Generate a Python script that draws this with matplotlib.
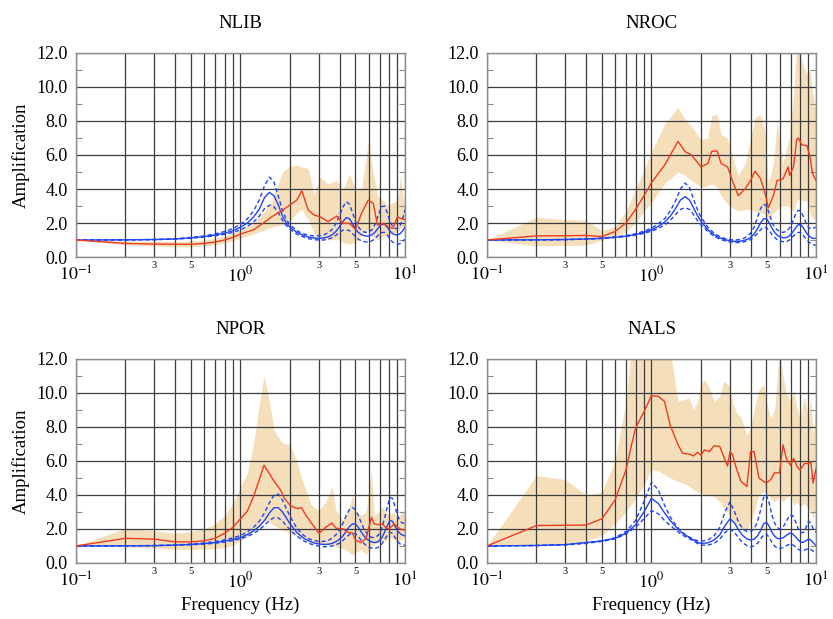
import matplotlib
matplotlib.use("Agg")
import matplotlib.pyplot as plt
import numpy as np
from matplotlib.ticker import FuncFormatter, MultipleLocator, LogLocator

plt.rcParams["font.family"] = ["Liberation Serif", "DejaVu Serif"]
plt.rcParams["mathtext.fontset"] = "stix"

# ── model (theoretical) transfer functions, common frequency grid ─────────────
freq_model = [0.1, 0.2, 0.3, 0.4, 0.5, 0.6, 0.7, 0.8, 0.9, 1.0,
              1.1, 1.2, 1.3, 1.4, 1.5, 1.6, 1.7, 1.8, 1.9, 2.0,
              2.2, 2.4, 2.6, 2.8, 3.0, 3.2, 3.4, 3.6, 3.8, 4.0,
              4.2, 4.4, 4.6, 4.8, 5.0, 5.2, 5.4, 5.6, 5.8, 6.0,
              6.3, 6.6, 6.9, 7.2, 7.5, 7.8, 8.1, 8.4, 8.7, 9.0,
              9.3, 9.6, 10.0]

nlib_model = [1.00, 1.01, 1.03, 1.06, 1.13, 1.20, 1.30, 1.40, 1.55, 1.75,
              2.00, 2.35, 2.80, 3.50, 3.80, 3.60, 3.05, 2.40, 2.00, 1.75,
              1.45, 1.28, 1.17, 1.12, 1.10, 1.12, 1.18, 1.30, 1.50, 1.78,
              2.10, 2.32, 2.25, 1.95, 1.65, 1.45, 1.33, 1.26, 1.23, 1.23,
              1.30, 1.48, 1.72, 1.92, 1.93, 1.75, 1.53, 1.38, 1.31, 1.30,
              1.36, 1.50, 1.75]
nlib_model_hi = [1.00, 1.01, 1.03, 1.07, 1.15, 1.24, 1.36, 1.50, 1.68, 1.92,
                 2.25, 2.70, 3.35, 4.20, 4.70, 4.40, 3.55, 2.75, 2.20, 1.90,
                 1.55, 1.37, 1.28, 1.24, 1.25, 1.30, 1.42, 1.62, 1.95, 2.45,
                 2.95, 3.25, 3.10, 2.60, 2.10, 1.78, 1.58, 1.48, 1.45, 1.45,
                 1.60, 1.95, 2.50, 2.95, 3.00, 2.60, 2.10, 1.80, 1.68, 1.68,
                 1.80, 2.15, 2.80]
nlib_model_lo = [1.00, 1.01, 1.02, 1.05, 1.11, 1.17, 1.25, 1.33, 1.45, 1.60,
                 1.80, 2.05, 2.40, 2.85, 3.05, 2.95, 2.60, 2.15, 1.85, 1.62,
                 1.35, 1.19, 1.08, 1.02, 1.00, 1.00, 1.05, 1.13, 1.27, 1.45,
                 1.58, 1.60, 1.55, 1.38, 1.20, 1.05, 0.96, 0.91, 0.89, 0.89,
                 0.95, 1.10, 1.30, 1.44, 1.45, 1.30, 1.05, 0.88, 0.80, 0.76,
                 0.78, 0.88, 1.05]

nroc_model = [1.00, 1.01, 1.03, 1.06, 1.10, 1.16, 1.23, 1.32, 1.45, 1.60,
              1.80, 2.05, 2.40, 2.85, 3.35, 3.55, 3.35, 2.90, 2.45, 2.10,
              1.60, 1.30, 1.13, 1.02, 0.95, 0.92, 0.92, 0.96, 1.03, 1.15,
              1.35, 1.65, 2.00, 2.25, 2.25, 2.00, 1.70, 1.45, 1.30, 1.20,
              1.13, 1.14, 1.25, 1.45, 1.70, 1.90, 1.90, 1.70, 1.45, 1.27,
              1.15, 1.10, 1.10]
nroc_model_hi = [1.00, 1.01, 1.03, 1.06, 1.11, 1.18, 1.26, 1.37, 1.52, 1.70,
                 1.95, 2.25, 2.70, 3.30, 4.00, 4.35, 4.10, 3.40, 2.80, 2.35,
                 1.75, 1.40, 1.20, 1.08, 1.02, 1.00, 1.02, 1.08, 1.20, 1.40,
                 1.75, 2.30, 2.85, 3.10, 3.00, 2.55, 2.05, 1.75, 1.60, 1.50,
                 1.45, 1.50, 1.70, 2.05, 2.50, 2.75, 2.70, 2.35, 2.00, 1.75,
                 1.65, 1.70, 1.75]
nroc_model_lo = [1.00, 1.01, 1.02, 1.05, 1.09, 1.14, 1.20, 1.28, 1.39, 1.52,
                 1.68, 1.88, 2.15, 2.50, 2.80, 2.90, 2.80, 2.50, 2.15, 1.90,
                 1.50, 1.22, 1.05, 0.95, 0.88, 0.85, 0.85, 0.88, 0.94, 1.03,
                 1.17, 1.38, 1.60, 1.75, 1.72, 1.55, 1.32, 1.15, 1.03, 0.95,
                 0.90, 0.90, 1.00, 1.18, 1.35, 1.45, 1.42, 1.25, 1.05, 0.90,
                 0.80, 0.72, 0.70]

npor_model = [1.00, 1.01, 1.02, 1.05, 1.09, 1.14, 1.20, 1.28, 1.38, 1.50,
              1.67, 1.88, 2.15, 2.50, 2.95, 3.25, 3.25, 3.00, 2.65, 2.30,
              1.80, 1.48, 1.30, 1.18, 1.12, 1.09, 1.10, 1.15, 1.25, 1.40,
              1.60, 1.88, 2.15, 2.30, 2.30, 2.10, 1.85, 1.62, 1.45, 1.33,
              1.23, 1.20, 1.27, 1.45, 1.80, 2.20, 2.50, 2.45, 2.15, 1.90,
              1.75, 1.65, 1.60]
npor_model_hi = [1.00, 1.01, 1.03, 1.06, 1.11, 1.18, 1.26, 1.36, 1.48, 1.62,
                 1.82, 2.10, 2.45, 2.95, 3.55, 4.00, 4.05, 3.70, 3.20, 2.75,
                 2.05, 1.65, 1.43, 1.32, 1.27, 1.27, 1.32, 1.45, 1.65, 1.95,
                 2.35, 2.80, 3.15, 3.25, 3.15, 2.80, 2.40, 2.05, 1.80, 1.62,
                 1.50, 1.50, 1.65, 2.00, 2.60, 3.30, 3.85, 3.80, 3.30, 2.80,
                 2.50, 2.35, 2.35]
npor_model_lo = [1.00, 1.01, 1.02, 1.04, 1.07, 1.11, 1.16, 1.23, 1.32, 1.42,
                 1.56, 1.73, 1.95, 2.22, 2.50, 2.67, 2.65, 2.45, 2.20, 1.95,
                 1.58, 1.32, 1.16, 1.05, 0.99, 0.96, 0.96, 1.00, 1.07, 1.17,
                 1.33, 1.52, 1.68, 1.75, 1.72, 1.55, 1.35, 1.17, 1.03, 0.94,
                 0.87, 0.86, 0.93, 1.10, 1.35, 1.62, 1.80, 1.75, 1.50, 1.27,
                 1.13, 1.07, 1.05]

nals_model = [1.00, 1.03, 1.08, 1.20, 1.30, 1.45, 1.75, 2.25, 3.00, 3.80,
              3.50, 2.95, 2.50, 2.15, 1.85, 1.65, 1.50, 1.35, 1.22, 1.15,
              1.18, 1.35, 1.65, 2.20, 2.60, 2.35, 1.90, 1.60, 1.42, 1.35,
              1.40, 1.58, 1.90, 2.30, 2.40, 2.15, 1.80, 1.58, 1.46, 1.42,
              1.48, 1.62, 1.75, 1.72, 1.55, 1.35, 1.22, 1.22, 1.32, 1.40,
              1.35, 1.20, 1.02]
nals_model_hi = [1.00, 1.03, 1.08, 1.20, 1.30, 1.48, 1.85, 2.50, 3.60, 4.75,
                 4.30, 3.40, 2.70, 2.25, 1.90, 1.68, 1.52, 1.40, 1.31, 1.28,
                 1.35, 1.60, 2.10, 3.00, 3.60, 3.00, 2.35, 2.00, 1.85, 1.85,
                 2.00, 2.40, 3.10, 3.85, 4.00, 3.50, 2.80, 2.35, 2.10, 2.00,
                 2.10, 2.45, 2.80, 2.80, 2.45, 2.00, 1.78, 1.80, 2.10, 2.45,
                 2.35, 2.00, 1.80]
nals_model_lo = [1.00, 1.02, 1.06, 1.15, 1.27, 1.42, 1.70, 2.10, 2.60, 3.08,
                 2.90, 2.50, 2.20, 1.95, 1.72, 1.55, 1.42, 1.30, 1.15, 1.05,
                 1.05, 1.15, 1.40, 1.80, 2.00, 1.80, 1.45, 1.18, 1.02, 0.95,
                 1.00, 1.15, 1.40, 1.65, 1.70, 1.50, 1.20, 1.00, 0.88, 0.85,
                 0.90, 1.02, 1.10, 1.08, 0.95, 0.80, 0.72, 0.72, 0.80, 0.85,
                 0.80, 0.70, 0.60]

# ── observed spectral ratios: mean and +/- band ──────────────────────────────
nlib_f = [0.1, 0.2, 0.3, 0.4, 0.5, 0.6, 0.7, 0.8, 0.9, 1.0,
          1.2, 1.4, 1.55, 1.8, 2.0, 2.2, 2.36, 2.58, 2.8, 3.04,
          3.41, 3.84, 4.2, 4.6, 5.0, 5.44, 5.98, 6.41, 6.8, 7.38,
          7.9, 8.45, 9.0, 9.4, 10.0]
nlib_mean = [1.00, 0.80, 0.76, 0.75, 0.75, 0.80, 0.88, 1.00, 1.15, 1.35,
             1.60, 2.05, 2.37, 2.75, 3.06, 3.35, 3.90, 2.76, 2.47, 2.37,
             2.08, 2.41, 1.98, 1.98, 1.63, 2.57, 3.35, 3.16, 1.88, 1.98,
             1.78, 1.69, 2.37, 2.27, 2.20]
nlib_hi = [1.00, 0.95, 0.92, 0.90, 0.95, 1.00, 1.10, 1.22, 1.40, 1.62,
           2.00, 2.70, 3.30, 5.00, 5.35, 5.40, 5.30, 5.20, 3.70, 4.70,
           4.30, 4.50, 4.00, 4.90, 3.90, 4.00, 6.80, 5.00, 3.60, 3.30,
           3.00, 3.20, 3.30, 4.80, 2.60]
nlib_lo = [1.00, 0.72, 0.65, 0.60, 0.60, 0.65, 0.72, 0.82, 0.95, 1.10,
           1.35, 1.60, 1.75, 1.90, 2.10, 2.60, 2.80, 2.20, 1.40, 1.10,
           1.00, 1.05, 0.85, 0.75, 0.85, 1.30, 1.60, 1.20, 1.00, 1.20,
           1.30, 1.40, 1.50, 1.70, 1.80]

nroc_f = [0.1, 0.2, 0.3, 0.4, 0.5, 0.6, 0.7, 0.8, 0.9, 1.0,
          1.2, 1.45, 1.6, 1.75, 2.0, 2.2, 2.32, 2.5, 2.65, 2.9,
          3.1, 3.37, 3.7, 4.0, 4.26, 4.6, 4.9, 5.13, 5.5, 5.8,
          6.3, 6.77, 6.9, 7.3, 7.63, 7.8, 8.2, 8.8, 9.2, 9.5,
          10.0]
nroc_mean = [1.00, 1.24, 1.25, 1.27, 1.20, 1.50, 2.00, 2.80, 3.60, 4.37,
             5.40, 6.80, 6.20, 6.00, 5.30, 5.50, 6.20, 6.25, 5.50, 5.30,
             4.50, 3.60, 4.00, 4.50, 5.05, 4.60, 3.75, 2.90, 3.60, 4.50,
             4.60, 5.30, 4.80, 5.30, 6.90, 7.00, 6.60, 6.55, 5.90, 4.95,
             4.50]
nroc_hi = [1.00, 2.35, 2.20, 2.15, 1.55, 1.80, 2.70, 4.00, 5.10, 6.20,
           7.80, 8.80, 8.10, 7.70, 6.90, 7.00, 8.30, 8.40, 7.20, 7.00,
           6.00, 4.80, 5.50, 7.00, 8.20, 8.40, 7.40, 4.30, 5.50, 7.90,
           5.50, 6.80, 7.00, 9.50, 12.5, 12.5, 11.5, 10.8, 11.0, 9.80,
           8.50]
nroc_lo = [1.00, 0.65, 0.68, 0.70, 1.00, 1.20, 1.50, 2.00, 2.70, 3.20,
           4.30, 5.00, 4.80, 4.50, 4.10, 4.20, 4.30, 4.10, 3.60, 3.10,
           2.90, 2.70, 2.80, 2.80, 2.70, 2.60, 2.50, 2.20, 2.60, 2.80,
           3.00, 3.00, 2.90, 2.70, 3.30, 3.40, 3.30, 3.30, 2.60, 2.30,
           2.20]

npor_f = [0.1, 0.2, 0.3, 0.4, 0.5, 0.6, 0.7, 0.8, 0.9, 1.0,
          1.1, 1.2, 1.3, 1.39, 1.5, 1.6, 1.75, 1.85, 2.0, 2.2,
          2.35, 2.5, 2.7, 3.0, 3.3, 3.6, 3.8, 4.2, 4.5, 4.8,
          5.0, 5.4, 5.8, 6.25, 6.5, 6.9, 7.3, 7.6, 8.0, 8.6,
          9.0, 9.6, 10.0]
npor_mean = [1.00, 1.45, 1.40, 1.24, 1.24, 1.30, 1.45, 1.75, 2.10, 2.60,
             3.05, 3.90, 4.90, 5.75, 5.25, 4.80, 4.30, 3.80, 3.40, 3.20,
             3.25, 2.80, 2.35, 1.75, 2.10, 2.35, 2.05, 2.00, 1.80, 1.75,
             1.35, 1.20, 1.45, 2.68, 2.30, 2.25, 2.30, 2.10, 2.00, 2.30,
             2.10, 1.95, 1.95]
npor_hi = [1.00, 2.05, 1.90, 1.75, 1.85, 2.00, 2.30, 2.80, 3.50, 4.50,
           5.30, 7.00, 9.30, 11.0, 9.50, 7.80, 7.20, 7.00, 7.00, 6.00,
           5.00, 4.30, 3.40, 3.10, 3.60, 4.50, 3.10, 2.50, 3.00, 4.00,
           3.00, 2.80, 3.00, 5.50, 2.80, 3.00, 3.30, 3.00, 2.80, 3.00,
           2.50, 3.10, 2.90]
npor_lo = [1.00, 0.95, 0.88, 0.80, 0.80, 0.82, 0.85, 0.90, 1.05, 1.30,
           1.55, 1.90, 2.20, 2.50, 2.40, 2.20, 2.00, 1.90, 1.80, 1.60,
           1.40, 1.30, 1.20, 1.10, 1.10, 1.05, 0.95, 0.85, 0.70, 0.45,
           0.60, 0.80, 0.50, 0.90, 1.10, 1.20, 1.30, 1.30, 1.50, 1.40,
           1.20, 1.40, 1.60]

nals_f = [0.1, 0.2, 0.3, 0.4, 0.5, 0.6, 0.7, 0.75, 0.8, 0.9,
          1.0, 1.1, 1.2, 1.3, 1.45, 1.55, 1.7, 1.8, 1.9, 2.0,
          2.1, 2.25, 2.4, 2.6, 2.75, 2.9, 3.0, 3.1, 3.3, 3.5,
          3.8, 4.0, 4.2, 4.5, 4.8, 5.0, 5.3, 5.6, 6.0, 6.3,
          6.6, 7.0, 7.3, 7.7, 8.0, 8.5, 9.0, 9.3, 9.6, 10.0]
nals_mean = [1.00, 2.20, 2.22, 2.23, 2.60, 3.70, 5.47, 6.80, 7.93, 8.90,
             9.84, 9.80, 9.50, 8.10, 6.95, 6.45, 6.40, 6.30, 6.50, 6.35,
             6.65, 6.55, 6.90, 6.85, 6.25, 5.70, 6.55, 6.40, 5.47, 4.80,
             4.50, 6.55, 6.55, 5.00, 4.80, 4.70, 4.90, 5.30, 5.30, 6.95,
             6.15, 5.75, 6.15, 5.65, 5.47, 5.85, 5.85, 5.95, 4.70, 5.55]
nals_hi = [1.00, 5.15, 4.90, 4.00, 4.15, 6.00, 9.50, 12.5, 12.5, 12.5,
           12.5, 12.5, 12.5, 12.5, 9.50, 9.60, 9.70, 9.00, 9.50, 10.5,
           10.8, 10.3, 9.50, 9.80, 10.7, 10.5, 10.4, 9.50, 8.80, 8.60,
           7.50, 8.00, 9.00, 10.2, 10.5, 9.50, 8.50, 9.00, 12.5, 11.0,
           10.0, 9.50, 10.2, 9.00, 8.50, 9.80, 8.50, 9.80, 7.50, 9.50]
nals_lo = [1.00, 1.05, 1.10, 1.30, 1.60, 2.30, 3.00, 3.40, 3.80, 4.60,
           5.50, 5.40, 5.20, 5.00, 4.80, 4.70, 4.50, 4.30, 4.20, 4.10,
           4.00, 4.00, 3.90, 3.60, 3.20, 3.00, 2.60, 2.40, 2.30, 2.00,
           1.90, 2.40, 3.00, 4.00, 4.20, 4.10, 3.80, 3.60, 3.90, 3.60,
           3.80, 4.00, 3.40, 3.60, 3.30, 3.50, 3.20, 3.00, 2.60, 3.30]

RED = "#f03a1e"
BLUE = "#1f45f5"
BAND = "#f5dfbb"
GRID = "#3c3c3c"
FS_TICK = 13
FS_LAB = 13.5


def minor_label(v, pos):
    lead = int(round(v / 10 ** np.floor(np.log10(v) + 1e-9)))
    return str(lead) if lead in (3, 5) else ""


def draw_panel(ax, title, f_obs, mean, lo, hi, model, model_lo, model_hi,
               ylabel=False, xlabel=False):
    ax.fill_between(f_obs, lo, hi, color=BAND, lw=0, zorder=1)
    ax.plot(freq_model, model_hi, color=BLUE, lw=1.0, dashes=(3, 2), zorder=2)
    ax.plot(freq_model, model_lo, color=BLUE, lw=1.0, dashes=(3, 2), zorder=2)
    ax.plot(freq_model, model, color=BLUE, lw=1.0, zorder=2)
    ax.plot(f_obs, mean, color=RED, lw=1.0, zorder=3)

    ax.set_xscale("log")
    ax.set_xlim(0.1, 10)
    ax.set_ylim(0, 12)
    ax.set_axisbelow("line")

    ax.xaxis.set_major_locator(LogLocator(base=10))
    ax.xaxis.set_minor_locator(LogLocator(base=10, subs=range(2, 10)))
    ax.xaxis.set_major_formatter(
        FuncFormatter(lambda v, p: r"$10^{%d}$" % int(round(np.log10(v)))))
    ax.xaxis.set_minor_formatter(FuncFormatter(minor_label))
    ax.yaxis.set_major_locator(MultipleLocator(2))
    ax.yaxis.set_minor_locator(MultipleLocator(1))
    ax.yaxis.set_major_formatter(FuncFormatter(lambda v, p: "%.1f" % v))

    ax.grid(True, axis="x", which="both", color=GRID, lw=0.9)
    ax.grid(True, axis="y", which="major", color=GRID, lw=0.9)

    ax.tick_params(axis="x", which="major", length=0, labelsize=FS_TICK, pad=6)
    ax.tick_params(axis="x", which="minor", length=0, labelsize=7.5, pad=3)
    ax.tick_params(axis="y", which="major", length=0, labelsize=FS_TICK, pad=6)
    ax.tick_params(axis="y", which="minor", direction="in", length=4,
                   width=0.8, color="0.55", left=True, right=True)
    for s in ax.spines.values():
        s.set_color("0.55")
        s.set_linewidth(1.0)

    ax.set_title(title, fontsize=FS_LAB, pad=18)
    if ylabel:
        ax.set_ylabel("Amplification", fontsize=FS_LAB, labelpad=5)
    if xlabel:
        ax.set_xlabel("Frequency (Hz)", fontsize=FS_LAB, labelpad=4)


fig = plt.figure(figsize=(8.33, 6.19), dpi=100)
w, h = 0.395, 0.3296
ax1 = fig.add_axes([0.0912, 0.5848, w, h])
ax2 = fig.add_axes([0.5846, 0.5848, w, h])
ax3 = fig.add_axes([0.0912, 0.0905, w, h])
ax4 = fig.add_axes([0.5846, 0.0905, w, h])

draw_panel(ax1, "NLIB", nlib_f, nlib_mean, nlib_lo, nlib_hi,
           nlib_model, nlib_model_lo, nlib_model_hi, ylabel=True)
draw_panel(ax2, "NROC", nroc_f, nroc_mean, nroc_lo, nroc_hi,
           nroc_model, nroc_model_lo, nroc_model_hi)
draw_panel(ax3, "NPOR", npor_f, npor_mean, npor_lo, npor_hi,
           npor_model, npor_model_lo, npor_model_hi, ylabel=True, xlabel=True)
draw_panel(ax4, "NALS", nals_f, nals_mean, nals_lo, nals_hi,
           nals_model, nals_model_lo, nals_model_hi, xlabel=True)

fig.savefig("out.png", dpi=100)
